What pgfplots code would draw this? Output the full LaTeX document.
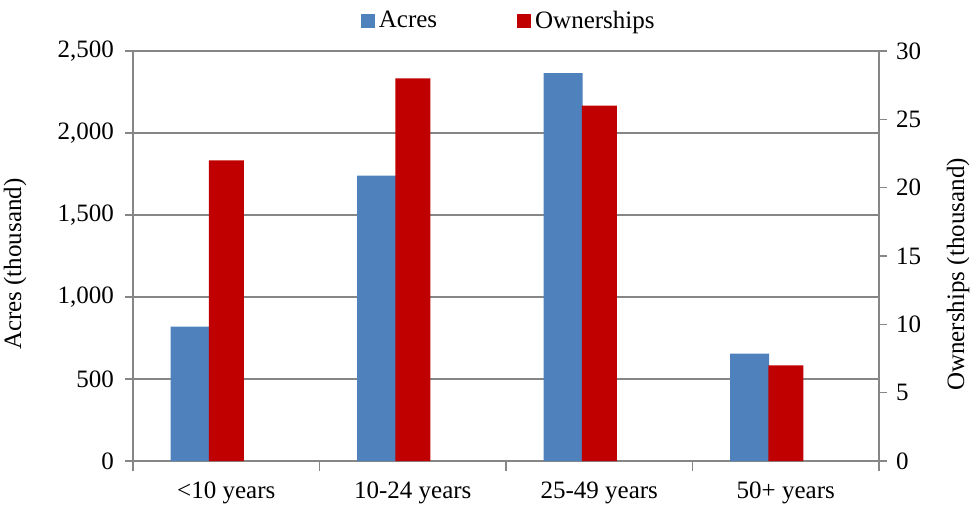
\documentclass[border=0pt]{standalone}
\usepackage{fontspec}
\setmainfont{Liberation Serif}
\usepackage{pgfplots}
\pgfplotsset{compat=1.18}
\definecolor{acres}{HTML}{4F81BD}
\definecolor{owners}{HTML}{C00000}
\definecolor{axisgray}{HTML}{868686}

\pgfplotsset{
  base/.style={
    scale only axis, width=373pt, height=205pt,
    xmin=-0.5, xmax=3.5, ymin=0,
    font=\fontsize{12.5}{14}\selectfont,
    /pgf/number format/assume math mode=true,
    /pgf/number format/1000 sep={,},
    scaled y ticks=false,
    axis line style={axisgray, line width=0.7pt},
    tick style={axisgray, line width=0.7pt},
    tick align=outside,
    major tick length=4pt,
    minor tick length=5pt,
    xtick={0,1,2,3},
    major x tick style={draw=none},
  },
  sqlegend/.style={legend image code/.code={\fill[##1] (0pt,-3.5pt) rectangle (7pt,3.5pt);}},
}

\begin{document}
\begin{tikzpicture}
\begin{axis}[base, at={(0,0)}, anchor=south west,
  ymax=2500, ytick={0,500,...,2500},
  axis x line*=bottom, axis y line*=left,
  ymajorgrids, grid style={axisgray, line width=0.7pt},
  minor xtick={-0.5,0.5,1.5,2.5,3.5},
  xticklabels={<10 years, 10-24 years, 25-49 years, 50+ years},
  xticklabel style={yshift=-3pt},
  yticklabel style={xshift=-2pt},
  ylabel={Acres (thousand)},
  ylabel style={at={(rel axis cs:-0.158,0.48)}, anchor=center},
]
\addplot[ybar, bar width=19.5pt, bar shift=-18.1pt, fill=acres, draw=none]
  coordinates {(0,820) (1,1740) (2,2365) (3,655)};
\end{axis}
\begin{axis}[base, at={(0,0)}, anchor=south west,
  ymax=30, ytick={0,5,...,30},
  axis x line=none, axis y line*=right,
  yticklabel style={xshift=1pt},
  ylabel={Ownerships (thousand)},
  ylabel style={at={(rel axis cs:1.106,0.455)}, anchor=center},
  sqlegend,
  legend columns=2,
  legend style={draw=none, fill=none, at={(rel axis cs:0.505,1)}, anchor=center, yshift=15pt,
    /tikz/every even column/.append style={column sep=38pt}},
]
\addlegendimage{fill=acres, draw=none}
\addlegendentry{Acres}
\addplot[ybar, bar width=17.5pt, bar shift=0pt, fill=owners, draw=none]
  coordinates {(0,22) (1,28) (2,26) (3,7)};
\addlegendentry{Ownerships}
\end{axis}
\pgfresetboundingbox
\path[use as bounding box] (-66.5pt,-21.5pt) rectangle (423pt,230.5pt);
\end{tikzpicture}
\end{document}
